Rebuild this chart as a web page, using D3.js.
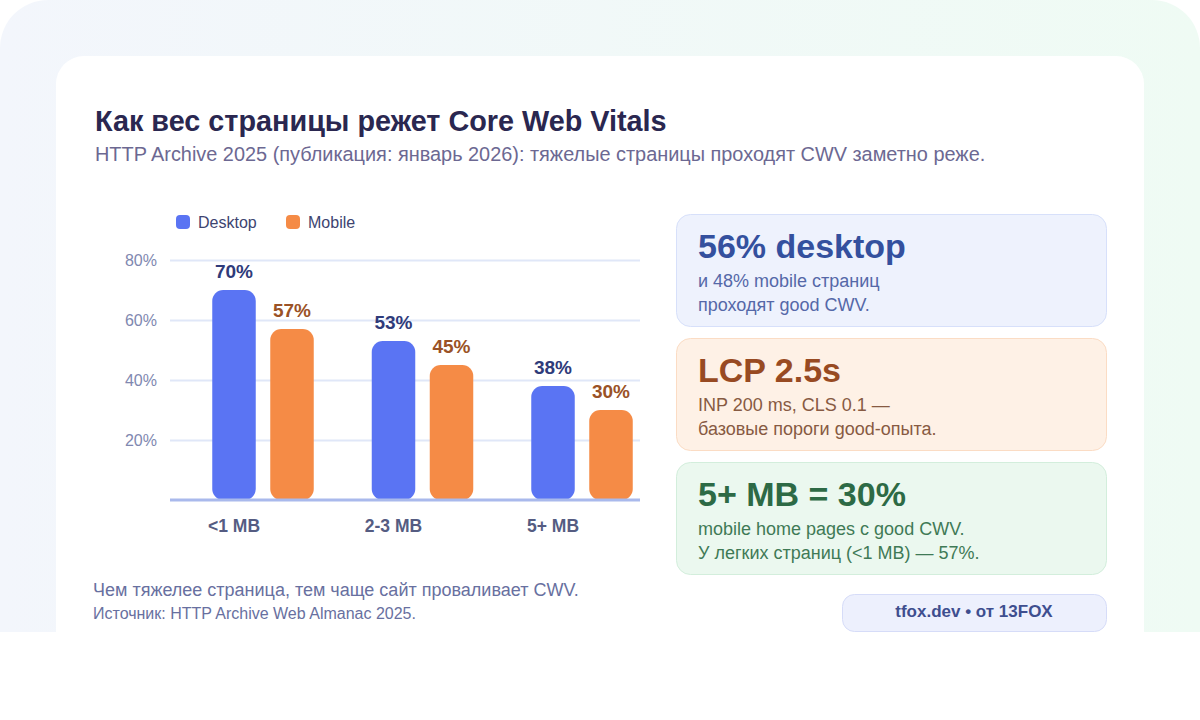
<!DOCTYPE html>
<html>
<head>
<meta charset="utf-8">
<style>
body{margin:0;background:#fff;}
svg{display:block;font-family:"Liberation Sans",Arial,Helvetica,sans-serif;}
</style>
</head>
<body>
<script src="https://d3js.org/d3.v7.min.js"></script>
<script>
// data
var categories=["<1 MB","2-3 MB","5+ MB"];
var series=["Desktop","Mobile"];
var desktop=[70,53,38];
var mobile=[57,45,30];
var yTicks=[20,40,60,80];

var seriesColor={Desktop:"#5a74f3",Mobile:"#f58b46"};
var labelColor={Desktop:"#2f3b7a",Mobile:"#9a5226"};

var W=1200,H=720;
var svg=d3.select("body").append("svg").attr("width",W).attr("height",H);
var defs=svg.append("defs");

var bg=defs.append("linearGradient").attr("id","bg").attr("x1","0").attr("x2","1").attr("y1","0").attr("y2","0");
bg.append("stop").attr("offset","0").attr("stop-color","#f3f6fc");
bg.append("stop").attr("offset","1").attr("stop-color","#effbf4");

defs.append("clipPath").attr("id","pg").append("rect").attr("width",W).attr("height",632);

var page=svg.append("g").attr("clip-path","url(#pg)");
page.append("rect").attr("width",W).attr("height",700).attr("rx",48).attr("fill","url(#bg)");
page.append("rect").attr("x",56).attr("y",56).attr("width",1088).attr("height",640).attr("rx",28).attr("fill","#fff");

// title
svg.append("text").attr("x",95).attr("y",131).attr("font-size",28.8).attr("font-weight","bold")
  .attr("fill","#2a2750").text("Как вес страницы режет Core Web Vitals");
svg.append("text").attr("x",95).attr("y",161).attr("font-size",19.9)
  .attr("fill","#6c6892").text("HTTP Archive 2025 (публикация: январь 2026): тяжелые страницы проходят CWV заметно реже.");

// legend
var lg=svg.append("g").attr("transform","translate(176,215)");
series.forEach(function(s,i){
  var g=lg.append("g").attr("transform","translate("+(i*110)+",0)");
  g.append("rect").attr("width",14).attr("height",14).attr("rx",4).attr("fill",seriesColor[s]);
  g.append("text").attr("x",22).attr("y",13).attr("font-size",16).attr("fill","#3d4470").text(s);
});

// scales
var y=d3.scaleLinear().domain([0,80]).range([500,260]);
var x0=d3.scalePoint().domain(categories).range([234,553]);
var x1=d3.scaleBand().domain(series).range([-21.75,79.75]).paddingInner(0.25);

var gx1=170,gx2=640;
var chart=svg.append("g");
var yAxis=chart.append("g").attr("transform","translate("+gx1+",0)")
  .call(d3.axisLeft(y).tickValues(yTicks).tickSize(-(gx2-gx1)).tickPadding(13).tickFormat(function(d){return d+"%";}));
yAxis.attr("font-size",16).attr("font-family",null);
yAxis.select(".domain").remove();
yAxis.selectAll(".tick line").attr("stroke","#e0e7f8").attr("stroke-width",2);
yAxis.selectAll(".tick text").attr("fill","#8088b0");

var rows=categories.map(function(c,i){return {cat:c,vals:[{s:"Desktop",v:desktop[i]},{s:"Mobile",v:mobile[i]}]};});

var grp=chart.selectAll(".grp").data(rows).enter().append("g")
  .attr("transform",function(d){return "translate("+x0(d.cat)+",0)";});

grp.selectAll("rect").data(function(d){return d.vals;}).enter().append("rect")
  .attr("x",function(d){return x1(d.s);})
  .attr("y",function(d){return y(d.v);})
  .attr("width",x1.bandwidth())
  .attr("height",function(d){return y(0)-y(d.v);})
  .attr("rx",11)
  .attr("fill",function(d){return seriesColor[d.s];});

grp.selectAll(".val").data(function(d){return d.vals;}).enter().append("text")
  .attr("x",function(d){return x1(d.s)+x1.bandwidth()/2;})
  .attr("y",function(d){return y(d.v)-12;})
  .attr("text-anchor","middle").attr("font-size",19).attr("font-weight","bold")
  .attr("fill",function(d){return labelColor[d.s];})
  .text(function(d){return d.v+"%";});

// baseline
chart.append("line").attr("x1",gx1).attr("x2",gx2).attr("y1",y(0)).attr("y2",y(0))
  .attr("stroke","#a9b9ec").attr("stroke-width",3);

chart.selectAll(".cat").data(categories).enter().append("text")
  .attr("x",function(d){return x0(d);}).attr("y",532)
  .attr("text-anchor","middle").attr("font-size",17.5).attr("font-weight","bold").attr("fill","#555c82")
  .text(function(d){return d;});

// footer notes
svg.append("text").attr("x",93).attr("y",596).attr("font-size",18).attr("fill","#6870a0")
  .text("Чем тяжелее страница, тем чаще сайт проваливает CWV.");
svg.append("text").attr("x",93).attr("y",619).attr("font-size",16).attr("fill","#6870a0")
  .text("Источник: HTTP Archive Web Almanac 2025.");

// cards
var cards=[
  {y:214,fill:"#eef2fd",stroke:"#d7e0fa",tc:"#34509e",bc:"#5568a8",title:"56% desktop",lines:["и 48% mobile страниц","проходят good CWV."]},
  {y:338,fill:"#fef1e6",stroke:"#fbdcc4",tc:"#984a22",bc:"#875a42",title:"LCP 2.5s",lines:["INP 200 ms, CLS 0.1 —","базовые пороги good-опыта."]},
  {y:462,fill:"#ebf8ef",stroke:"#d3eedc",tc:"#2d6a45",bc:"#3f7a56",title:"5+ MB = 30%",lines:["mobile home pages с good CWV.","У легких страниц (<1 MB) — 57%."]}
];
cards.forEach(function(c){
  var g=svg.append("g").attr("transform","translate(676,"+c.y+")");
  g.append("rect").attr("x",0.5).attr("y",0.5).attr("width",430).attr("height",112).attr("rx",14)
    .attr("fill",c.fill).attr("stroke",c.stroke);
  g.append("text").attr("x",22).attr("y",43.5).attr("font-size",34).attr("font-weight","bold").attr("fill",c.tc).text(c.title);
  c.lines.forEach(function(l,i){
    g.append("text").attr("x",22).attr("y",73+i*23.5).attr("font-size",18).attr("fill",c.bc).text(l);
  });
});

// badge
var b=svg.append("g").attr("transform","translate(842,594)");
b.append("rect").attr("x",0.5).attr("y",0.5).attr("width",264).attr("height",37).attr("rx",12)
  .attr("fill","#edf0fd").attr("stroke","#d6dcf8");
b.append("text").attr("x",132).attr("y",23).attr("text-anchor","middle").attr("font-size",17)
  .attr("font-weight","bold").attr("fill","#3e4e8f").text("tfox.dev • от 13FOX");
</script>
</body>
</html>
